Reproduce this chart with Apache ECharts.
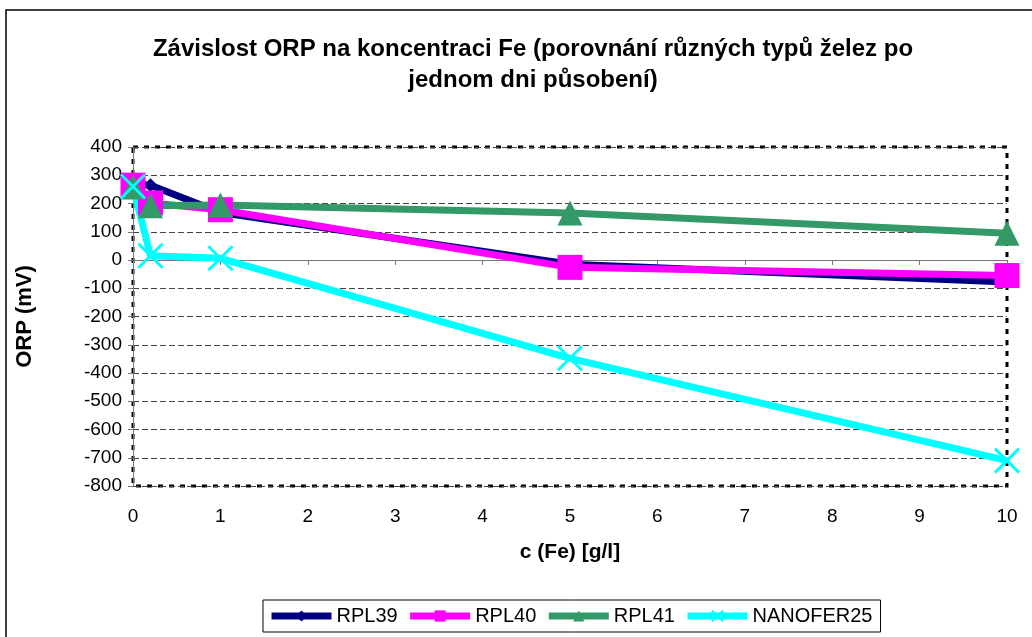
<!DOCTYPE html>
<html>
<head>
<meta charset="utf-8">
<script src="https://cdn.jsdelivr.net/npm/echarts@6/dist/echarts.min.js"></script>
<style>
  html, body { margin: 0; padding: 0; background: #fff; }
  #chart { width: 1032px; height: 637px; }
</style>
</head>
<body>
<div id="chart"></div>
<script>
// concentration of Fe [g/l]
const concentrations = [0, 0.2, 1, 5, 10]
const rpl39 = [270, 265, 168, -15, -78]
const rpl40 = [265, 202, 178, -26, -55]
const rpl41 = [258, 192, 195, 166, 95]
const nanofer25 = [260, 15, 6, -348, -710]
const yTicks = { min: -800, max: 400, step: 100 }
const xTicks = { min: 0, max: 10, step: 1 }

const font = 'Arial, "Liberation Sans", sans-serif'
const crossPath = 'path://M0,0L10,10M10,0L0,10'

function pairs(values) {
  return concentrations.map((c, i) => [c, values[i]])
}

const chart = echarts.init(document.getElementById('chart'))
chart.setOption({
  animation: false,
  textStyle: { fontFamily: font },
  title: {
    text: 'Závislost ORP na koncentraci Fe (porovnání různých typů želez po\njednom dni působení)',
    left: 528,
    top: 29,
    textAlign: 'center',
    textStyle: { fontFamily: font, fontSize: 24, fontWeight: 'bold', color: '#000', lineHeight: 31 },
  },
  graphic: [{
    type: 'rect',
    shape: { x: 6, y: 10, width: 1040, height: 640 },
    style: { fill: 'none', stroke: '#000', lineWidth: 1.5 },
    silent: true,
    z: -10,
  }],
  grid: {
    left: 133, right: 25, top: 147, bottom: 151,
    show: true,
    borderColor: '#000',
    borderWidth: 3,
    borderType: [5, 6],
    backgroundColor: 'transparent',
  },
  legend: {
    left: 263,
    top: 600,
    padding: [6, 8, 6, 5],
    itemGap: 9,
    itemWidth: 60,
    itemHeight: 14,
    borderColor: '#000',
    borderWidth: 1,
    lineStyle: { width: 7 },
    textStyle: { fontFamily: font, fontSize: 20, color: '#000' },
    data: ['RPL39', 'RPL40', 'RPL41', 'NANOFER25'],
  },
  xAxis: {
    type: 'value',
    min: xTicks.min,
    max: xTicks.max,
    interval: xTicks.step,
    name: 'c (Fe) [g/l]',
    nameLocation: 'middle',
    nameGap: 56,
    nameTextStyle: { fontFamily: font, fontSize: 21, fontWeight: 'bold', color: '#000' },
    axisLine: { lineStyle: { color: '#777', width: 1 } },
    axisTick: { show: true, length: 5, lineStyle: { color: '#777' } },
    axisLabel: { fontSize: 19, color: '#000', margin: 21 },
    splitLine: { show: false },
  },
  yAxis: {
    type: 'value',
    min: yTicks.min,
    max: yTicks.max,
    interval: yTicks.step,
    name: 'ORP (mV)',
    nameLocation: 'middle',
    nameGap: 97,
    nameTextStyle: { fontFamily: font, fontSize: 22, fontWeight: 'bold', color: '#000' },
    axisLine: { show: true, lineStyle: { color: '#777', width: 1 } },
    axisTick: { show: true, length: 5, lineStyle: { color: '#777' } },
    axisLabel: { fontSize: 19, color: '#000', margin: 11 },
    splitLine: { show: true, lineStyle: { color: '#444', width: 1, type: [6, 3] } },
  },
  series: [
    {
      name: 'RPL39', type: 'line', data: pairs(rpl39),
      symbol: 'diamond', symbolSize: 14,
      lineStyle: { color: '#000080', width: 7 },
      itemStyle: { color: '#000080' },
    },
    {
      name: 'RPL40', type: 'line', data: pairs(rpl40),
      symbol: 'rect', symbolSize: 25,
      lineStyle: { color: '#FF00FF', width: 7 },
      itemStyle: { color: '#FF00FF' },
    },
    {
      name: 'RPL41', type: 'line', data: pairs(rpl41),
      symbol: 'triangle', symbolSize: 25,
      lineStyle: { color: '#339966', width: 7 },
      itemStyle: { color: '#339966' },
    },
    {
      name: 'NANOFER25', type: 'line', data: pairs(nanofer25),
      symbol: crossPath, symbolSize: 24,
      lineStyle: { color: '#00FFFF', width: 7 },
      itemStyle: { color: '#00FFFF', borderColor: '#00FFFF', borderWidth: 3 },
    },
  ],
})
</script>
</body>
</html>
